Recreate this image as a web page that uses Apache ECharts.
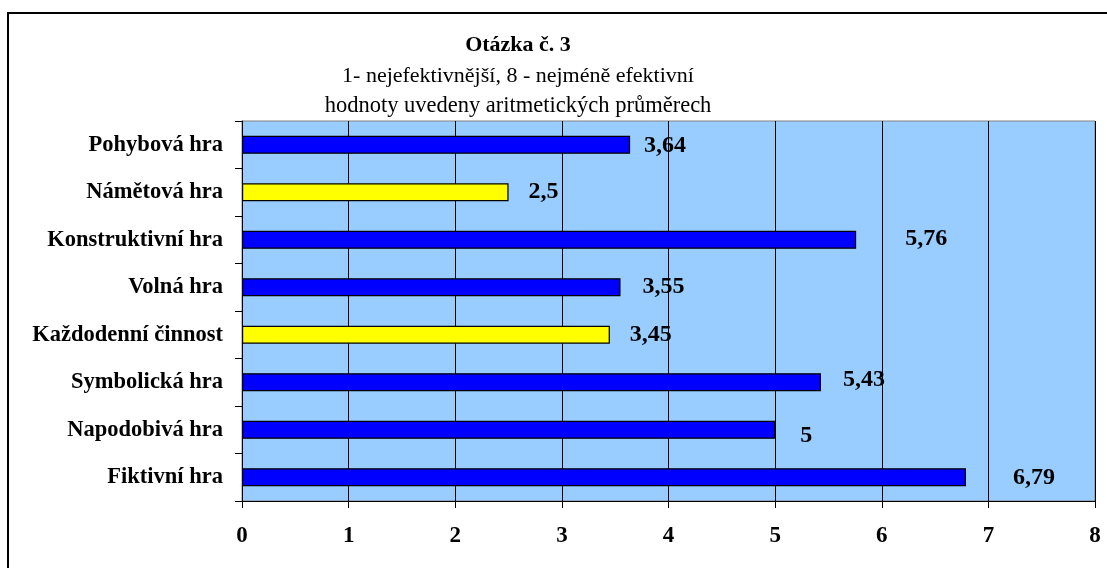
<!DOCTYPE html>
<html>
<head>
<meta charset="utf-8">
<script src="https://cdn.jsdelivr.net/npm/echarts@6/dist/echarts.min.js"></script>
<style>
  html, body { margin: 0; padding: 0; background: #ffffff; }
  #chart { width: 1107px; height: 568px; }
</style>
</head>
<body>
<div id="chart"></div>
<script>
// Průměrné pořadí jednotlivých her (1 = nejefektivnější, 8 = nejméně efektivní)
const categories = [
  'Pohybová hra',
  'Námětová hra',
  'Konstruktivní hra',
  'Volná hra',
  'Každodenní činnost',
  'Symbolická hra',
  'Napodobivá hra',
  'Fiktivní hra'
];
const values = [3.64, 2.5, 5.76, 3.55, 3.45, 5.43, 5, 6.79];
const xTicks = [0, 1, 2, 3, 4, 5, 6, 7, 8];

const titleText = 'Otázka č. 3';
const subtitleLines = [
  '1- nejefektivnější, 8 - nejméně efektivní',
  'hodnoty uvedeny aritmetických průměrech'
];

// hry zvýrazněné žlutě
const highlighted = ['Námětová hra', 'Každodenní činnost'];

// posun popisků hodnot vpravo od konce sloupce [dx, dy]
const labelNudge = [[14, 1], [20, 0], [49, -1], [22, 0], [20, 0], [22, -2], [25, 6], [47, 1]];

const serif = '"Liberation Serif", "Times New Roman", serif';

const chart = echarts.init(document.getElementById('chart'));

const barData = values.map((v, i) => ({
  value: v,
  itemStyle: {
    color: highlighted.includes(categories[i]) ? '#FFFF00' : '#0000FF'
  },
  label: { offset: labelNudge[i] }
}));

chart.setOption({
  animation: false,
  backgroundColor: '#ffffff',
  graphic: [
    {
      type: 'rect',
      shape: { x: 8, y: 13, width: 1200, height: 700 },
      style: { fill: 'none', stroke: '#000000', lineWidth: 2 },
      silent: true
    },
    {
      type: 'text',
      x: 518, y: 45,
      style: {
        text: titleText,
        font: 'bold 22px ' + serif,
        fill: '#000000',
        textAlign: 'center',
        textVerticalAlign: 'middle'
      }
    },
    {
      type: 'text',
      x: 518, y: 76,
      style: {
        text: subtitleLines[0],
        font: '22px ' + serif,
        fill: '#000000',
        textAlign: 'center',
        textVerticalAlign: 'middle'
      }
    },
    {
      type: 'text',
      x: 518, y: 106,
      style: {
        text: subtitleLines[1],
        font: '22.5px ' + serif,
        fill: '#000000',
        textAlign: 'center',
        textVerticalAlign: 'middle'
      }
    }
  ],
  grid: {
    left: 242,
    right: 12,
    top: 121,
    bottom: 67,
    show: true,
    backgroundColor: '#99CCFF',
    borderColor: '#808080',
    borderWidth: 1
  },
  xAxis: {
    type: 'value',
    min: xTicks[0],
    max: xTicks[xTicks.length - 1],
    interval: 1,
    axisLine: { show: true, lineStyle: { color: '#000000', width: 1 } },
    axisTick: { show: true, length: 7, lineStyle: { color: '#000000' } },
    axisLabel: {
      margin: 24,
      color: '#000000',
      fontFamily: serif,
      fontWeight: 'bold',
      fontSize: 23,
      formatter: v => String(v)
    },
    splitLine: { show: true, lineStyle: { color: '#000000', width: 1 } }
  },
  yAxis: {
    type: 'category',
    inverse: true,
    data: categories,
    axisLine: { show: true, lineStyle: { color: '#000000', width: 1 } },
    axisTick: { show: true, length: 7, lineStyle: { color: '#000000' } },
    axisLabel: {
      margin: 19,
      color: '#000000',
      fontFamily: serif,
      fontWeight: 'bold',
      fontSize: 22.5
    },
    splitLine: { show: false }
  },
  series: [
    {
      type: 'bar',
      data: barData,
      barWidth: 18,
      itemStyle: { borderColor: '#000000', borderWidth: 1.2 },
      label: {
        show: true,
        position: 'right',
        distance: 0,
        color: '#000000',
        fontFamily: serif,
        fontWeight: 'bold',
        fontSize: 24,
        formatter: p => String(p.value).replace('.', ',')
      }
    }
  ]
});
</script>
</body>
</html>
